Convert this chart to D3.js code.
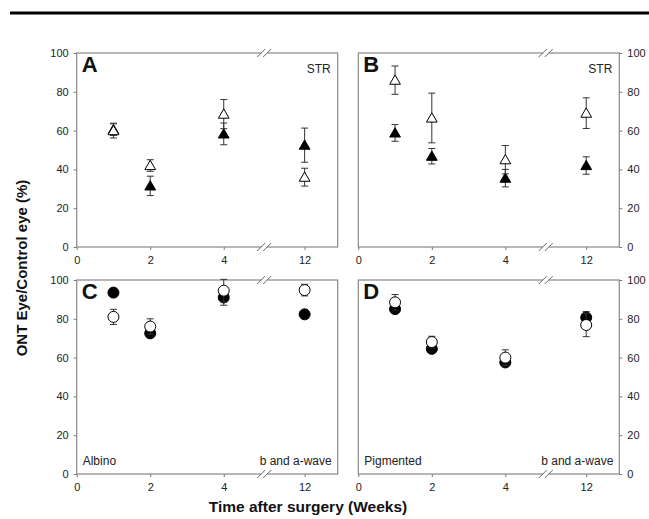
<!DOCTYPE html>
<html lang="en">
<head>
<meta charset="UTF-8">
<title>ONT Eye / Control eye</title>
<script src="https://cdnjs.cloudflare.com/ajax/libs/d3/7.8.5/d3.min.js"></script>
<style>
  body { margin: 0; background: #fff; }
  svg { font-family: "Liberation Sans", Arial, sans-serif; }
  .tick text { font-size: 11px; fill: #222; }
  .tick line { stroke: #777; }
</style>
</head>
<body>
<div id="chart"></div>
<script>
// Weeks after surgery
const weeks = [1, 2, 4, 12];
const xTicks = [0, 2, 4, 12];
const yTicks = [0, 20, 40, 60, 80, 100];

// Panel A: STR, albino
const panelA_open = [60, 42, 68.5, 36];
const panelA_openErr = [3.8, 3, 7.5, 4.6];
const panelA_filled = [60.5, 31.5, 58.3, 52.5];
const panelA_filledErr = [3, 5, 5.6, 8.8];

// Panel B: STR, pigmented
const panelB_open = [86, 66.5, 45, 69];
const panelB_openErr = [7.3, 12.8, 7.3, 7.9];
const panelB_filled = [58.8, 46.8, 35.5, 42];
const panelB_filledErr = [4.3, 4, 4.5, 4.5];

// Panel C: b and a-wave, albino
const panelC_open = [81, 76, 94.5, 94.8];
const panelC_openErr = [3.9, 4, 5.8, 3];
const panelC_filled = [93.5, 72.5, 91, 82.3];
const panelC_filledErr = [1, 1, 4, 1];

// Panel D: b and a-wave, pigmented
const panelD_open = [88.5, 68, 60, 76.8];
const panelD_openErr = [4, 3, 4, 6];
const panelD_filled = [85, 64.5, 57.5, 80.7];
const panelD_filledErr = [1.5, 1.5, 1.5, 3];

const W = 649, H = 519;
const svg = d3.select("#chart").append("svg").attr("width", W).attr("height", H);

// rule across the top of the page
svg.append("line").attr("x1", 10).attr("x2", W).attr("y1", 13).attr("y2", 13)
  .attr("stroke", "#000").attr("stroke-width", 3);

const panels = [
  { letter: "A", x: 76.7, y: 53, side: "left", marker: "triangle",
    open: panelA_open, openErr: panelA_openErr, filled: panelA_filled, filledErr: panelA_filledErr,
    tl: null, tr: "STR", bl: null, br: null },
  { letter: "B", x: 358.3, y: 53, side: "right", marker: "triangle",
    open: panelB_open, openErr: panelB_openErr, filled: panelB_filled, filledErr: panelB_filledErr,
    tr: "STR", bl: null, br: null },
  { letter: "C", x: 76.7, y: 280, side: "left", marker: "circle",
    open: panelC_open, openErr: panelC_openErr, filled: panelC_filled, filledErr: panelC_filledErr,
    tr: null, bl: "Albino", br: "b and a-wave" },
  { letter: "D", x: 358.3, y: 280, side: "right", marker: "circle",
    open: panelD_open, openErr: panelD_openErr, filled: panelD_filled, filledErr: panelD_filledErr,
    tr: null, bl: "Pigmented", br: "b and a-wave" }
];

const pw = 261, ph = 194;
const breakAt = 5.1;
const bw = pw * 5.1 / 7.1;

panels.forEach(p => {
  const g = svg.append("g").attr("transform", `translate(${p.x},${p.y})`);

  // broken x axis: 0..5.1, then 10.9..12.9
  const x = d3.scaleLinear().domain([0, breakAt, 10.9, 12.9]).range([0, bw, bw, pw]);
  const y = d3.scaleLinear().domain([0, 100]).range([ph, 0]);

  const xAxis = g.append("g").attr("transform", `translate(0,${ph})`)
    .call(d3.axisBottom(x).tickValues(xTicks).tickSize(3).tickPadding(6));
  xAxis.select(".domain").remove();

  const yAxis = p.side === "left"
    ? g.append("g").call(d3.axisLeft(y).tickValues(yTicks).tickSize(3).tickPadding(5))
    : g.append("g").attr("transform", `translate(${pw},0)`)
        .call(d3.axisRight(y).tickValues(yTicks).tickSize(3).tickPadding(5));
  yAxis.select(".domain").remove();

  // frame
  g.append("rect").attr("width", pw).attr("height", ph)
    .attr("fill", "none").attr("stroke", "#888").attr("stroke-width", 1.2);

  // break marks on top and bottom edges
  const bx = x(breakAt);
  [0, ph].forEach(ey => {
    g.append("rect").attr("x", bx - 3).attr("y", ey - 2).attr("width", 6).attr("height", 4).attr("fill", "#fff");
    [-3, 3].forEach(dx => {
      g.append("line")
        .attr("x1", bx + dx - 4).attr("y1", ey + 4)
        .attr("x2", bx + dx + 4).attr("y2", ey - 4)
        .attr("stroke", "#666").attr("stroke-width", 1);
    });
  });

  // panel letter and labels
  g.append("text").attr("x", 5).attr("y", 19).attr("font-size", 22).attr("font-weight", "bold")
    .attr("fill", "#111").text(p.letter);
  if (p.tr) g.append("text").attr("x", pw - 7).attr("y", 20).attr("text-anchor", "end")
    .attr("font-size", 12).attr("fill", "#222").text(p.tr);
  if (p.bl) g.append("text").attr("x", 6).attr("y", ph - 9)
    .attr("font-size", 12).attr("fill", "#222").text(p.bl);
  if (p.br) g.append("text").attr("x", pw - 6).attr("y", ph - 9).attr("text-anchor", "end")
    .attr("font-size", 12).attr("fill", "#222").text(p.br);

  const sym = p.marker === "triangle"
    ? d3.symbol().type(d3.symbolTriangle).size(50)
    : d3.symbol().type(d3.symbolCircle).size(95);

  function drawSeries(vals, errs, fill) {
    const data = weeks.map((w, i) => ({ w, v: vals[i], e: errs[i] }));
    const eb = g.append("g").attr("stroke", "#333").attr("stroke-width", 1);
    data.forEach(d => {
      const cx = x(d.w);
      eb.append("line").attr("x1", cx).attr("x2", cx).attr("y1", y(d.v + d.e)).attr("y2", y(d.v - d.e));
      [d.v + d.e, d.v - d.e].forEach(v => {
        eb.append("line").attr("x1", cx - 3.5).attr("x2", cx + 3.5).attr("y1", y(v)).attr("y2", y(v));
      });
    });
    g.append("g").selectAll("path").data(data).join("path")
      .attr("d", sym)
      .attr("transform", d => `translate(${x(d.w)},${y(d.v) + (p.marker === "triangle" ? 1 : 0)})`)
      .attr("fill", fill).attr("stroke", "#000").attr("stroke-width", 1);
  }

  drawSeries(p.filled, p.filledErr, "#000");
  drawSeries(p.open, p.openErr, "#fff");
});

// axis titles
svg.append("text").attr("transform", "translate(27,268) rotate(-90)")
  .attr("text-anchor", "middle").attr("font-size", 15).attr("font-weight", "bold")
  .attr("fill", "#111").text("ONT Eye/Control eye (%)");
svg.append("text").attr("x", 308).attr("y", 512)
  .attr("text-anchor", "middle").attr("font-size", 15.5).attr("font-weight", "bold")
  .attr("fill", "#111").text("Time after surgery (Weeks)");
</script>
</body>
</html>
